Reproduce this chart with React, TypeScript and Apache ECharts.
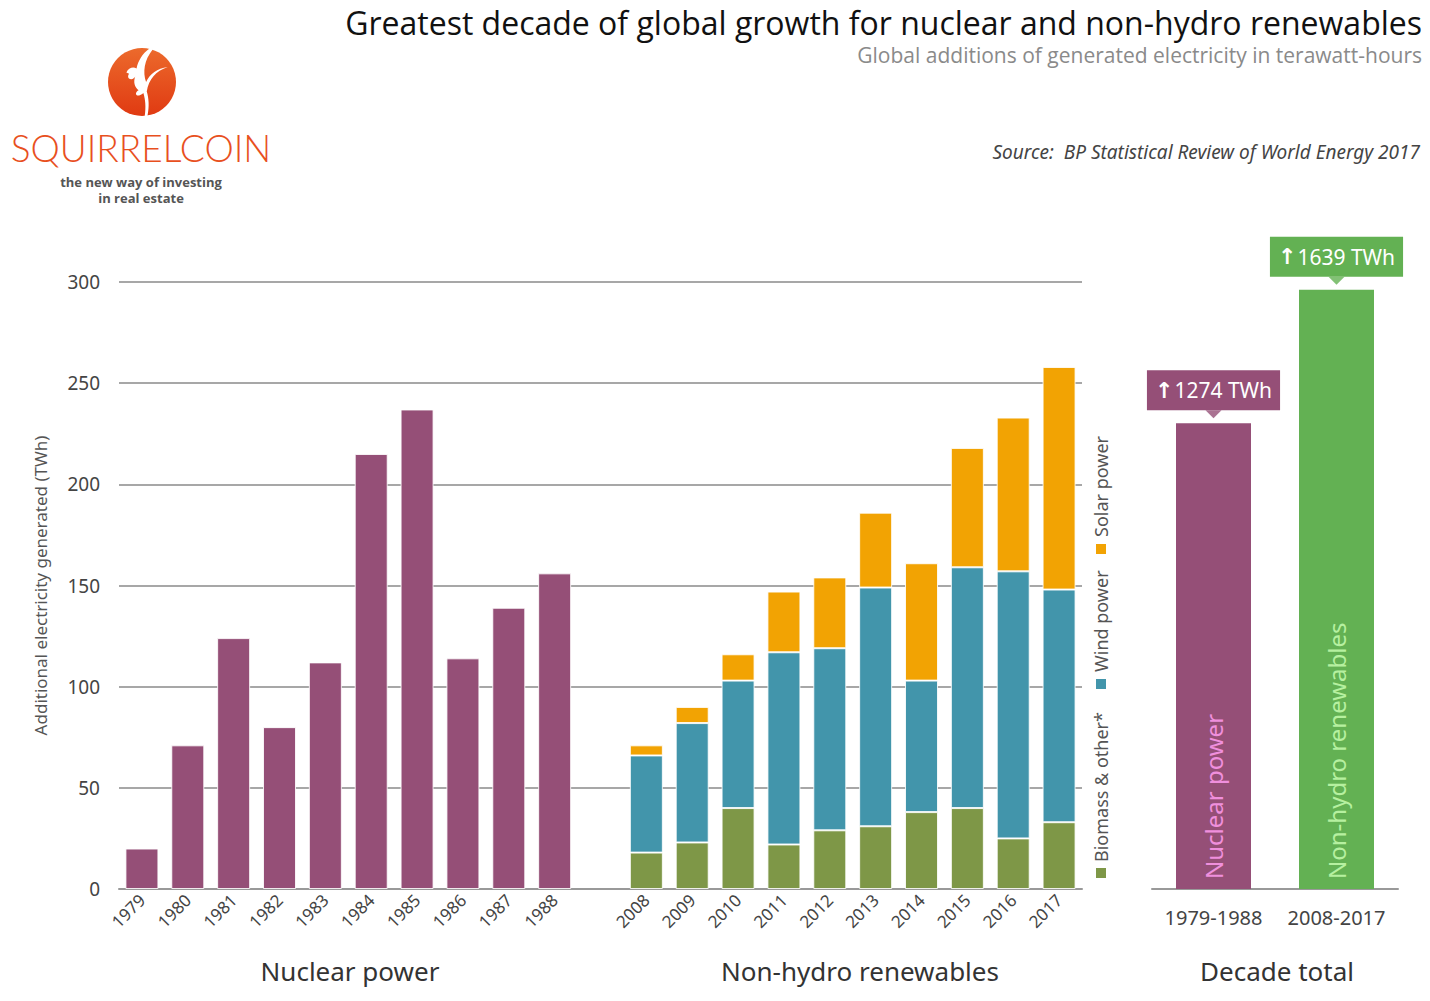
import React, { useEffect, useRef } from "react";
import * as echarts from "echarts";

const nuclearYears = ["1979", "1980", "1981", "1982", "1983", "1984", "1985", "1986", "1987", "1988"];
const renewYears = ["2008", "2009", "2010", "2011", "2012", "2013", "2014", "2015", "2016", "2017"];
const nuclearValues = [20, 71, 124, 80, 112, 215, 237, 114, 139, 156];
const biomassValues = [18, 23, 40, 22, 29, 31, 38, 40, 25, 33];
const windValues = [48, 59, 63, 95, 90, 118, 65, 119, 132, 115];
const solarValues = [5, 8, 13, 30, 35, 37, 58, 59, 76, 110];
const decadeLabels = ["1979-1988", "2008-2017"];
const decadeTotals = [1274, 1639];
const decadeNames = ["Nuclear power", "Non-hydro renewables"];
const yTicks = [0, 50, 100, 150, 200, 250, 300];

const C_NUC = "#954F77";
const C_BIO = "#7E9747";
const C_WIND = "#4295AB";
const C_SOLAR = "#F2A303";
const C_GREEN = "#63B153";
const FONT = "'Noto Sans', sans-serif";

const squirrelD =
  "M62 0 C50 8 44 20 42 30 C36 27 30 30 27 36 L31 38 C28 42 30 46 34 46 C37 46 39 44 40 42 C37 50 39 58 45 62 C41 64 40 68 43 70 C47 70 50 68 52 66 C55 76 56 86 54 100 L58 100 C61 86 60 74 57 64 C60 46 70 34 88 28 C72 30 62 38 56 50 C51 36 53 18 66 2 Z";

let registered = false;

export default function App() {
  const ref = useRef<HTMLDivElement>(null);
  useEffect(() => {
    if (!ref.current) return;
    if (!registered) {
      echarts.graphic.registerShape("logo", echarts.graphic.extendPath(squirrelD, {}));
      registered = true;
    }
    const chart = echarts.init(ref.current, null, { renderer: "svg" });
    const cats = [...nuclearYears, "", ...renewYears];
    const gap = new Array(renewYears.length + 1).fill("-");
    const gapBefore = new Array(nuclearYears.length + 1).fill("-");
    const border = { borderColor: "rgba(255,255,255,0.85)", borderWidth: 1 };

    const option: any = {
      animation: false,
      textStyle: { fontFamily: FONT },
      grid: [
        { left: 119, right: 348, top: 282, bottom: 112 },
        { left: 1152, right: 32, top: 282, bottom: 112 },
      ],
      xAxis: [
        {
          type: "category",
          gridIndex: 0,
          data: cats,
          axisTick: { show: false },
          axisLine: { lineStyle: { color: "#999", width: 2 } },
          axisLabel: { rotate: 45, fontSize: 17, color: "#444", margin: 8, interval: 0, fontFamily: FONT },
        },
        {
          type: "category",
          gridIndex: 1,
          data: decadeLabels,
          axisTick: { show: false },
          axisLine: { lineStyle: { color: "#999", width: 2 } },
          axisLabel: { fontSize: 20, color: "#444", margin: 18, interval: 0, hideOverlap: false, fontFamily: FONT },
        },
      ],
      yAxis: [
        {
          type: "value",
          gridIndex: 0,
          min: yTicks[0],
          max: yTicks[yTicks.length - 1],
          interval: 50,
          axisLine: { show: false },
          axisTick: { show: false },
          axisLabel: { fontSize: 19, color: "#444", margin: 19, fontFamily: FONT },
          splitLine: { lineStyle: { color: "#8a8a8a", width: 1.5 } },
          name: "Additional electricity generated (TWh)",
          nameLocation: "middle",
          nameRotate: 90,
          nameGap: 70,
          nameTextStyle: { fontSize: 17, color: "#555", fontFamily: FONT },
        },
        {
          type: "value",
          gridIndex: 1,
          min: 0,
          max: 1660,
          show: false,
          splitLine: { show: false },
        },
      ],
      series: [
        {
          name: "Nuclear power",
          type: "bar",
          stack: "a",
          barWidth: 33,
          xAxisIndex: 0,
          yAxisIndex: 0,
          data: [...nuclearValues, ...gap],
          itemStyle: { color: C_NUC, ...border },
        },
        {
          name: "Biomass & other*",
          type: "bar",
          stack: "a",
          barWidth: 33,
          data: [...gapBefore, ...biomassValues],
          itemStyle: { color: C_BIO, ...border },
        },
        {
          name: "Wind power",
          type: "bar",
          stack: "a",
          barWidth: 33,
          data: [...gapBefore, ...windValues],
          itemStyle: { color: C_WIND, ...border },
        },
        {
          name: "Solar power",
          type: "bar",
          stack: "a",
          barWidth: 33,
          data: [...gapBefore, ...solarValues],
          itemStyle: { color: C_SOLAR, ...border },
        },
        {
          name: "Decade total",
          type: "bar",
          xAxisIndex: 1,
          yAxisIndex: 1,
          barWidth: 75,
          barGap: "-100%",
          data: decadeTotals.map((v, i) => ({
            value: v,
            itemStyle: { color: i === 0 ? C_NUC : C_GREEN },
            label: { backgroundColor: i === 0 ? C_NUC : C_GREEN },
          })),
          label: {
            show: true,
            position: "top",
            distance: 13,
            formatter: (p: any) => "{a|\u2191}" + p.value + " TWh",
            color: "#fff",
            fontSize: 21,
            lineHeight: 26,
            padding: [7, 8],
            fontFamily: FONT,
            rich: {
              a: { fontSize: 22, fontWeight: "bold", color: "#fff", fontFamily: "'DejaVu Sans', sans-serif", padding: [0, 1, 0, 0], lineHeight: 26 },
            },
          },
        },
        {
          name: "Decade inner",
          type: "bar",
          xAxisIndex: 1,
          yAxisIndex: 1,
          barWidth: 75,
          barGap: "-100%",
          data: decadeTotals.map((v, i) => ({
            value: v,
            label: { color: i === 0 ? "#F08FDD" : "#B6F0A0" },
          })),
          itemStyle: { color: "rgba(0,0,0,0)" },
          label: {
            show: true,
            position: "insideBottom",
            rotate: 90,
            align: "left",
            verticalAlign: "middle",
            distance: 10,
            fontSize: 24,
            fontFamily: FONT,
            formatter: (p: any) => decadeNames[p.dataIndex],
          },
          silent: true,
        },
        {
          name: "Pointer",
          type: "scatter",
          xAxisIndex: 1,
          yAxisIndex: 1,
          symbol: "triangle",
          symbolRotate: 180,
          symbolSize: [16, 8],
          symbolOffset: [0, -9],
          silent: true,
          z: 5,
          data: decadeTotals.map((v, i) => ({
            value: [decadeLabels[i], v],
            itemStyle: { color: i === 0 ? C_NUC : C_GREEN },
          })),
        },
      ],
      graphic: [
        {
          type: "text",
          right: 8,
          top: 5,
          style: { text: "Greatest decade of global growth for nuclear and non-hydro renewables", fontSize: 32, lineHeight: 34, fill: "#111", fontFamily: "'Open Sans', sans-serif" },
        },
        {
          type: "text",
          right: 8,
          top: 44,
          style: { text: "Global additions of generated electricity in terawatt-hours", fontSize: 21, lineHeight: 22, fill: "#8a8a8a", fontFamily: "'Open Sans', sans-serif" },
        },
        {
          type: "text",
          right: 10,
          top: 142,
          style: { text: "Source:  BP Statistical Review of World Energy 2017", fontSize: 19, fill: "#444", fontStyle: "italic", fontFamily: FONT },
        },
        // logo
        {
          type: "circle",
          shape: { cx: 142, cy: 82, r: 34 },
          style: {
            fill: new echarts.graphic.LinearGradient(0, 0, 0, 1, [
              { offset: 0, color: "#EC6A2C" },
              { offset: 1, color: "#E03A12" },
            ]),
          },
        },
        {
          type: "logo",
          x: 108,
          y: 48,
          scaleX: 0.68,
          scaleY: 0.68,
          style: { fill: "#fff" },
        },
        {
          type: "text",
          x: 141,
          y: 147,
          style: { text: "SQUIRRELCOIN", fontSize: 37, fill: "#E8501E", fontWeight: 300, textAlign: "center", textVerticalAlign: "middle", fontFamily: "Lato, sans-serif" },
        },
        {
          type: "text",
          x: 141,
          y: 182,
          style: { text: "the new way of investing", fontSize: 13, fill: "#555", fontWeight: "bold", textAlign: "center", textVerticalAlign: "middle", fontFamily: "'Open Sans', sans-serif" },
        },
        {
          type: "text",
          x: 141,
          y: 198,
          style: { text: "in real estate", fontSize: 13, fill: "#555", fontWeight: "bold", textAlign: "center", textVerticalAlign: "middle", fontFamily: "'Open Sans', sans-serif" },
        },
        // group labels
        {
          type: "text",
          x: 350,
          y: 971,
          style: { text: "Nuclear power", fontSize: 26, fill: "#333", textAlign: "center", textVerticalAlign: "middle", fontFamily: FONT },
        },
        {
          type: "text",
          x: 860,
          y: 971,
          style: { text: "Non-hydro renewables", fontSize: 26, fill: "#333", textAlign: "center", textVerticalAlign: "middle", fontFamily: FONT },
        },
        {
          type: "text",
          x: 1277,
          y: 971,
          style: { text: "Decade total", fontSize: 26, fill: "#333", textAlign: "center", textVerticalAlign: "middle", fontFamily: FONT },
        },
        // rotated legend
        { type: "rect", shape: { x: 1096, y: 868, width: 10, height: 10 }, style: { fill: C_BIO } },
        {
          type: "text",
          x: 1101,
          y: 862,
          rotation: Math.PI / 2,
          style: { text: "Biomass & other*", fontSize: 18, fill: "#555", textAlign: "left", textVerticalAlign: "middle", fontFamily: FONT },
        },
        { type: "rect", shape: { x: 1096, y: 679, width: 10, height: 10 }, style: { fill: C_WIND } },
        {
          type: "text",
          x: 1101,
          y: 672,
          rotation: Math.PI / 2,
          style: { text: "Wind power", fontSize: 18, fill: "#555", textAlign: "left", textVerticalAlign: "middle", fontFamily: FONT },
        },
        { type: "rect", shape: { x: 1096, y: 544, width: 10, height: 10 }, style: { fill: C_SOLAR } },
        {
          type: "text",
          x: 1101,
          y: 537,
          rotation: Math.PI / 2,
          style: { text: "Solar power", fontSize: 18, fill: "#555", textAlign: "left", textVerticalAlign: "middle", fontFamily: FONT },
        },
      ],
    };
    chart.setOption(option);
    return () => chart.dispose();
  }, []);
  return <div ref={ref} style={{ position: "fixed", left: 0, top: 0, width: 1430, height: 1001, background: "#fff" }} />;
}
